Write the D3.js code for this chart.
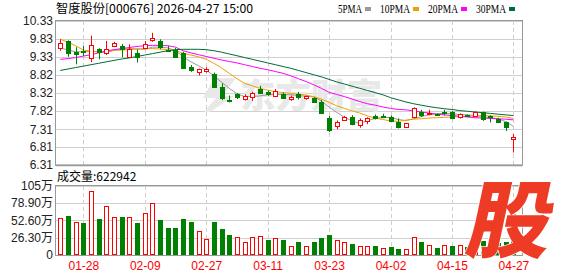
<!DOCTYPE html>
<html><head><meta charset="utf-8">
<script src="https://cdn.jsdelivr.net/npm/d3@7"></script>
<style>body{margin:0;background:#fff}svg{display:block}</style>
</head><body><svg id="c" width="578" height="276"></svg>
<script>
const dates = ["01-23","01-26","01-27","01-28","01-29","01-30","02-02","02-03","02-04","02-05",
"02-06","02-09","02-10","02-11","02-12","02-13","02-24","02-25","02-26","02-27",
"03-02","03-03","03-04","03-05","03-06","03-09","03-10","03-11","03-12","03-13",
"03-16","03-17","03-18","03-19","03-20","03-23","03-24","03-25","03-26","03-27",
"03-30","03-31","04-01","04-02","04-03","04-07","04-08","04-09","04-10","04-13",
"04-14","04-15","04-16","04-17","04-20","04-21","04-22","04-23","04-24","04-27"];
const open = [9.57,9.77,9.47,9.48,9.29,9.55,9.43,9.64,9.64,9.32,
9.45,9.57,9.81,9.77,9.53,9.52,9.45,9.05,8.91,8.94,
8.84,8.48,8.13,8.28,8.15,8.20,8.44,8.36,8.25,8.28,
8.15,8.28,8.19,8.17,8.08,7.61,7.40,7.57,7.66,7.42,
7.53,7.68,7.69,7.64,7.52,7.38,7.66,7.79,7.72,7.73,
7.80,7.79,7.64,7.70,7.69,7.78,7.68,7.59,7.50,7.03];
const high = [9.82,9.79,9.60,9.63,9.92,9.57,9.77,9.75,9.69,9.68,
9.54,9.77,10.00,9.82,9.63,9.58,9.47,9.10,9.00,9.04,
8.89,8.59,8.25,8.32,8.28,8.36,8.52,8.39,8.43,8.34,
8.25,8.35,8.25,8.20,8.13,7.68,7.55,7.68,7.70,7.61,
7.64,7.72,7.74,7.69,7.61,7.48,7.92,7.85,7.85,7.75,
7.85,7.82,7.75,7.72,7.81,7.80,7.70,7.63,7.52,7.17];
const low = [9.50,9.33,9.12,9.35,9.18,9.26,9.38,9.60,9.32,9.30,
9.17,9.55,9.75,9.54,9.47,9.31,9.02,8.91,8.81,8.89,
8.48,8.12,8.06,8.15,8.11,8.10,8.31,8.24,8.24,8.17,
8.10,8.14,8.13,8.04,7.75,7.23,7.31,7.55,7.42,7.35,
7.45,7.58,7.62,7.52,7.33,7.37,7.62,7.65,7.70,7.68,
7.69,7.59,7.61,7.66,7.67,7.54,7.50,7.48,7.26,6.66];
const close = [9.72,9.44,9.41,9.47,9.66,9.46,9.54,9.71,9.54,9.54,
9.33,9.68,9.86,9.60,9.50,9.32,9.03,8.95,8.98,8.98,
8.50,8.17,8.12,8.22,8.24,8.31,8.33,8.28,8.37,8.19,
8.22,8.20,8.23,8.08,7.77,7.29,7.52,7.64,7.45,7.58,
7.63,7.62,7.67,7.55,7.36,7.47,7.89,7.70,7.77,7.71,
7.76,7.62,7.73,7.69,7.78,7.59,7.65,7.50,7.36,7.10];
const ma5 = [9.58,9.52,9.47,9.47,9.48,9.47,9.45,9.52,9.54,9.56,
9.55,9.54,9.60,9.60,9.58,9.50,9.33,9.19,9.08,8.96,
8.80,8.62,8.45,8.30,8.22,8.22,8.24,8.27,8.28,8.28,
8.27,8.25,8.23,8.21,8.10,7.93,7.78,7.64,7.54,7.47,
7.55,7.61,7.63,7.64,7.58,7.55,7.60,7.66,7.71,7.74,
7.75,7.74,7.72,7.71,7.69,7.66,7.63,7.60,7.52,7.39];
const ma10 = [9.82,9.74,9.64,9.52,9.49,9.47,9.47,9.51,9.52,9.53,
9.55,9.56,9.56,9.55,9.53,9.50,9.43,9.38,9.33,9.26,
9.15,9.02,8.87,8.72,8.59,8.52,8.45,8.40,8.36,8.33,
8.31,8.29,8.26,8.22,8.15,8.06,7.96,7.89,7.82,7.76,
7.68,7.62,7.58,7.54,7.53,7.56,7.59,7.60,7.62,7.63,
7.64,7.65,7.66,7.67,7.68,7.69,7.68,7.67,7.65,7.61];
const ma20 = [9.26,9.28,9.31,9.35,9.39,9.44,9.49,9.53,9.56,9.59,
9.62,9.64,9.65,9.65,9.64,9.60,9.50,9.44,9.39,9.34,
9.29,9.24,9.20,9.16,9.11,9.06,9.01,8.97,8.92,8.87,
8.80,8.72,8.64,8.55,8.45,8.34,8.28,8.22,8.15,8.08,
8.02,7.98,7.93,7.89,7.86,7.85,7.82,7.79,7.76,7.73,
7.71,7.69,7.67,7.65,7.63,7.62,7.61,7.60,7.59,7.57];
const ma30 = [8.95,8.99,9.03,9.07,9.11,9.15,9.19,9.23,9.27,9.30,
9.34,9.38,9.42,9.46,9.50,9.53,9.54,9.54,9.54,9.53,
9.50,9.46,9.41,9.36,9.31,9.26,9.21,9.16,9.11,9.06,
9.01,8.95,8.89,8.83,8.77,8.70,8.63,8.57,8.51,8.45,
8.39,8.33,8.27,8.19,8.13,8.07,8.02,7.98,7.94,7.91,
7.88,7.86,7.83,7.81,7.79,7.77,7.75,7.73,7.71,7.69];
const volume = [55.8,59.3,50.2,49.2,97.4,54.8,74.6,57.4,57.8,57.4,
49.2,63.9,78.6,53.3,41.6,41.6,54.8,50.7,37.0,24.3,
50.7,39.6,30.4,27.4,19.8,27.4,28.9,22.8,25.9,22.8,
13.7,19.8,13.7,19.8,25.9,30.4,22.8,19.8,16.7,13.7,
13.7,13.7,10.2,11.7,8.7,8.7,26.9,19.8,14.7,10.2,
14.7,13.7,14.7,12.0,14.0,21.3,16.0,18.0,19.8,62.3];
const volUp = [1,0,1,0,1,0,1,1,0,1,
0,1,1,0,0,0,0,0,1,1,
0,0,0,1,1,1,1,0,1,0,
1,0,1,0,0,0,1,1,0,1,
1,0,1,0,0,1,1,0,1,0,
1,0,1,0,1,0,0,0,0,0];
const priceTicks = [6.31,6.81,7.31,7.82,8.32,8.82,9.33,9.83,10.33];
const volTicks = [0,26.30,52.60,78.90,105];
const dateTicks = ["01-28","02-09","02-27","03-11","03-23","04-02","04-15","04-27"];
const maNames = ["5PMA","10PMA","20PMA","30PMA"];
const maColors = ["#999999","#f0a000","#ff00ff","#006b36"];
const maSeries = [ma5, ma10, ma20, ma30];
const title = "智度股份[000676] 2026-04-27 15:00";
const volTitle = "成交量:622942";

const RED = "#ff0000", GREEN = "#008000";
const svg = d3.select("#c");
const L = 55.5, R = 522.5;
const x = d3.scalePoint().domain(dates).range([60.3, 513.4]);
const y = d3.scaleLinear().domain([6.31, 10.33]).range([165, 21]);
const yv = d3.scaleLinear().domain([0, 105]).range([255, 186]);
const px = v => Math.round(v) + 0.5;

// grids
const grid = svg.append("g");
grid.selectAll(".hg").data(priceTicks).join("line")
  .attr("x1", L).attr("x2", R).attr("y1", d => px(y(d))).attr("y2", d => px(y(d)))
  .attr("stroke", "#d0d0d0");
grid.selectAll(".vg").data(volTicks).join("line")
  .attr("x1", L).attr("x2", R).attr("y1", d => px(yv(d))).attr("y2", d => px(yv(d)))
  .attr("stroke", "#d0d0d0");
[[21,165],[186,255]].forEach(([a,b]) => {
  grid.append("g").selectAll("line").data(dateTicks).join("line")
    .attr("x1", d => px(x(d))).attr("x2", d => px(x(d))).attr("y1", a).attr("y2", b)
    .attr("stroke", "#cfcfcf").attr("stroke-dasharray", "4,3");
});

// watermark
const wm = svg.append("g").attr("fill", "#e8e8e8");
wm.append("path").attr("d", "M214,78 L236,78 L222,96 L234,96 L210,112 L204,112 L216,98 L203,98 Z");
wm.append("text").attr("x", 240).attr("y", 108).attr("font-family", "Noto Sans CJK SC")
  .attr("font-weight", 900).attr("font-size", 34)
  .attr("textLength", 142).attr("lengthAdjust", "spacingAndGlyphs").text("东方财富");

// frames
const fr = svg.append("g").attr("fill", "none").attr("stroke", "#999");
fr.append("rect").attr("x", L).attr("y", 20.5).attr("width", R - L).attr("height", 144.5);
fr.append("line").attr("x1", L).attr("x2", R).attr("y1", 165.5).attr("y2", 165.5).attr("stroke-width", 1.5);
fr.append("rect").attr("x", L).attr("y", 185.5).attr("width", R - L).attr("height", 70);

// MA lines
maSeries.forEach((s, k) => {
  svg.append("path").datum(s)
    .attr("fill", "none").attr("stroke", maColors[k]).attr("stroke-width", 1)
    .attr("d", d3.line().x((d, i) => x(dates[i])).y(d => y(d)));
});

// candles
const cg = svg.append("g");
dates.forEach((d, i) => {
  const up = close[i] > open[i];
  const col = up ? RED : GREEN;
  const c = Math.round(x(d));
  cg.append("line").attr("x1", c + 0.5).attr("x2", c + 0.5)
    .attr("y1", y(high[i])).attr("y2", y(low[i])).attr("stroke", col);
  const top = Math.round(y(Math.max(open[i], close[i])));
  const bot = Math.max(top + 1, Math.round(y(Math.min(open[i], close[i]))));
  cg.append("rect").attr("x", c - 1.5).attr("width", 4)
    .attr("y", top + 0.5).attr("height", bot - top)
    .attr("fill", up ? "#fff" : col).attr("stroke", col);
});

// volume bars
const vg = svg.append("g");
dates.forEach((d, i) => {
  const col = volUp[i] ? RED : GREEN;
  const c = Math.round(x(d));
  const top = Math.round(yv(volume[i]));
  vg.append("rect").attr("x", c - 1.5).attr("width", 4)
    .attr("y", top + 0.5).attr("height", 254 - top)
    .attr("fill", volUp[i] ? "#fff" : col).attr("stroke", col);
});

// axes
const ay = svg.append("g").attr("transform", "translate(53,0)")
  .call(d3.axisLeft(y).tickValues(priceTicks).tickSize(0).tickPadding(0).tickFormat(d3.format(".2f")));
ay.select(".domain").remove();
ay.selectAll("text").attr("font-family", "Liberation Sans").attr("font-size", 12).attr("fill", "#222");
const av = svg.append("g").attr("transform", "translate(53,0)")
  .call(d3.axisLeft(yv).tickValues(volTicks).tickSize(0).tickPadding(0)
    .tickFormat(d => d === 0 ? "0" : (d === 105 ? "105万" : d.toFixed(2) + "万")));
av.select(".domain").remove();
av.selectAll("text").attr("font-family", "Liberation Sans, Noto Sans CJK SC").attr("font-size", 12).attr("fill", "#222");
const ax = svg.append("g").attr("transform", "translate(0,258)")
  .call(d3.axisBottom(x).tickValues(dateTicks).tickSize(0).tickPadding(3));
ax.select(".domain").remove();
ax.selectAll("text").attr("font-family", "Liberation Sans").attr("font-size", 12).attr("fill", RED);

// title & legend
svg.append("text").attr("x", 56).attr("y", 13).attr("font-family", "Noto Sans CJK SC")
  .attr("font-size", 12).attr("fill", "#000").attr("textLength", 197)
  .attr("lengthAdjust", "spacingAndGlyphs").text(title);
svg.append("text").attr("x", 57).attr("y", 181).attr("font-family", "Noto Sans CJK SC")
  .attr("font-size", 12).attr("fill", "#000").text(volTitle);
let lx = 338;
maNames.forEach((n, k) => {
  const w = n.length * 6;
  svg.append("text").attr("x", lx).attr("y", 13).attr("font-family", "Liberation Serif")
    .attr("font-size", 12).attr("textLength", w).attr("lengthAdjust", "spacingAndGlyphs")
    .attr("fill", "#000").text(n);
  svg.append("rect").attr("x", lx + w + 3).attr("y", 7).attr("width", 6).attr("height", 4)
    .attr("fill", maColors[k]);
  lx += w + 18;
});

// badge
svg.append("text").attr("x", 512).attr("y", 251).attr("text-anchor", "middle")
  .attr("font-family", "Noto Sans CJK SC").attr("font-weight", 900).attr("font-size", 84)
  .attr("fill", "#ee3b26").attr("stroke", "#fff").attr("stroke-width", 1.5)
  .attr("paint-order", "stroke").attr("transform", "translate(512,220) skewX(-12) translate(-512,-220)")
  .text("股");
</script></body></html>
